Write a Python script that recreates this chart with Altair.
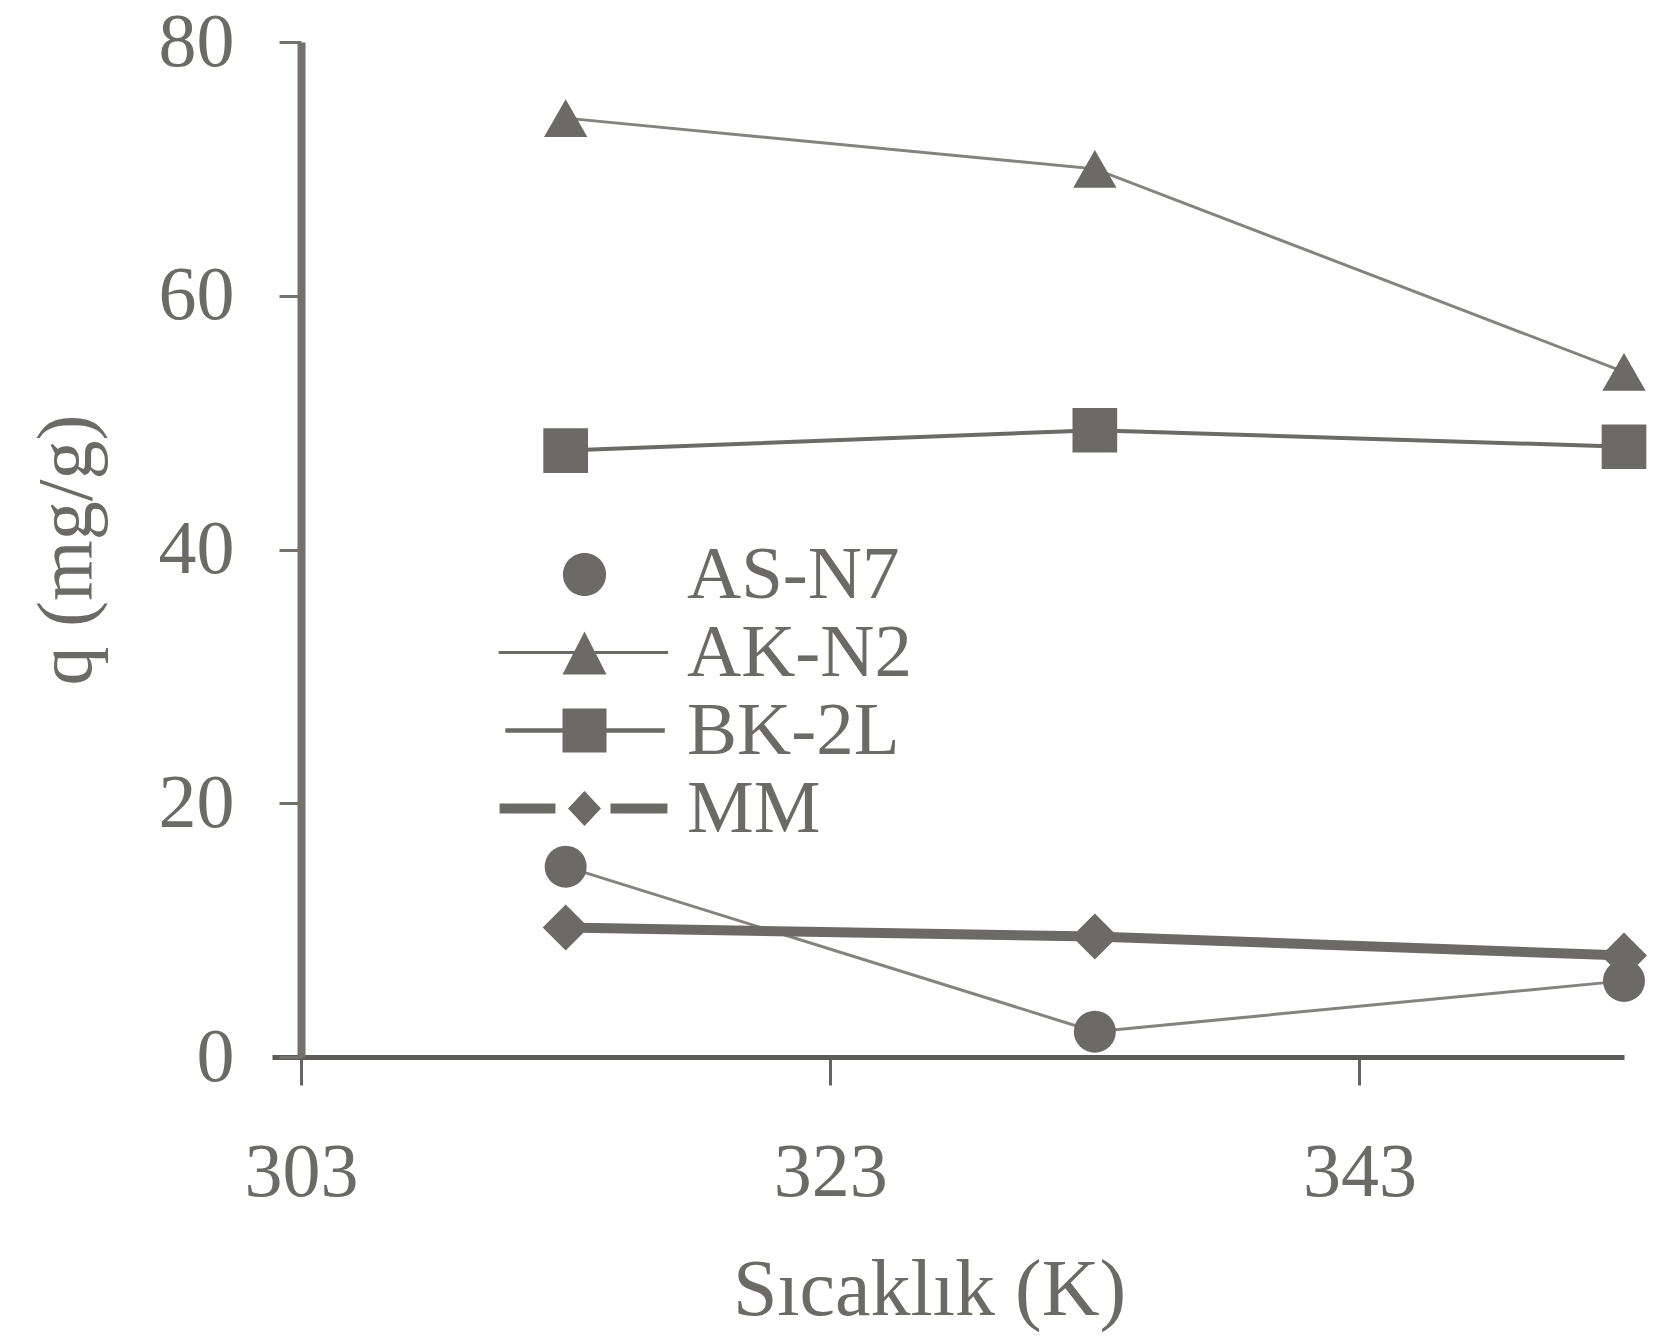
import altair as alt
import pandas as pd

# ---- data ----
temps = [313, 333, 353]
series_names = ["AS-N7", "AK-N2", "BK-2L", "MM"]
as_n7 = [15.0, 2.0, 6.0]
ak_n2 = [74.0, 70.0, 54.0]
bk_2l = [47.8, 49.4, 48.1]
mm = [10.2, 9.5, 8.0]

x_ticks = [303, 323, 343]
y_ticks = [0, 20, 40, 60, 80]

rows = []
for name, vals in zip(series_names, [as_n7, ak_n2, bk_2l, mm]):
    for t, v in zip(temps, vals):
        rows.append({"series": name, "T": t, "q": v})
df = pd.DataFrame(rows)

# ---- styles ----
GRAY = "#6b6a66"
LIGHT = "#85837f"
FONT = "Liberation Serif"

line_styles = {
    "AS-N7": (LIGHT, 3),
    "AK-N2": (LIGHT, 3),
    "BK-2L": (GRAY, 4),
    "MM": (GRAY, 10),
}
marker_shapes = ["circle", "triangle-up", "square", "diamond"]
marker_sizes = [1764, 2116, 2100, 1600]

legend_paths = [
    "M-0.98,0 A0.98,0.98 0 1,0 0.98,0 A0.98,0.98 0 1,0 -0.98,0 Z",
    "M-3.9,-0.07 L3.8,-0.07 L3.8,0.07 L-3.9,0.07 Z M0,-0.95 L1,1 L-1,1 Z",
    "M-3.6,-0.1 L3.65,-0.1 L3.65,0.1 L-3.6,0.1 Z M-1,-1 L1,-1 L1,1 L-1,1 Z",
    "M-3.86,-0.23 L-1.32,-0.23 L-1.32,0.23 L-3.86,0.23 Z "
    "M1.18,-0.23 L3.77,-0.23 L3.77,0.23 L1.18,0.23 Z "
    "M0,-0.8 L0.75,0 L0,0.8 L-0.75,0 Z",
]

x_enc = alt.X(
    "T:Q",
    title="Sıcaklık (K)",
    scale=alt.Scale(domain=[301.9, 353], nice=False, zero=False),
    axis=alt.Axis(
        values=x_ticks, format="d", grid=False,
        domainColor="#5c5a58", domainWidth=5,
        tickColor="#666462", tickWidth=3, tickSize=28,
        labelFont=FONT, labelFontSize=76, labelColor=GRAY, labelPadding=50,
        titleFont=FONT, titleFontSize=80, titleColor=GRAY, titleFontWeight="normal",
        titlePadding=41, titleX=657,
    ),
)
y_enc = alt.Y(
    "q:Q",
    title="q (mg/g)",
    scale=alt.Scale(domain=[0, 80], nice=False),
    axis=alt.Axis(
        values=y_ticks, grid=False, offset=-29,
        domainColor="#74706b", domainWidth=8,
        tickColor="#74706b", tickWidth=3, tickSize=22,
        labelFont=FONT, labelFontSize=76, labelColor=GRAY, labelPadding=45,
        titleFont=FONT, titleFontSize=78, titleColor=GRAY, titleFontWeight="normal",
        titlePadding=52,
    ),
)

base = alt.Chart(df)

line_layers = []
for name in series_names:
    col, w = line_styles[name]
    line_layers.append(
        base.transform_filter(alt.datum.series == name)
        .mark_line(color=col, strokeWidth=w)
        .encode(x=x_enc, y=y_enc)
    )

points = base.mark_point(filled=True, opacity=1, color=GRAY, strokeWidth=0).encode(
    x=x_enc, y=y_enc,
    shape=alt.Shape("series:N", scale=alt.Scale(domain=series_names, range=marker_shapes), legend=None),
    size=alt.Size("series:N", scale=alt.Scale(domain=series_names, range=marker_sizes), legend=None),
)

legend_layer = base.mark_point(filled=True, opacity=0, color=GRAY).encode(
    x=x_enc, y=y_enc,
    shape=alt.Shape(
        "series:N",
        scale=alt.Scale(domain=series_names, range=legend_paths),
        legend=alt.Legend(
            orient="none", legendX=275, legendY=495, title=None, padding=0,
            symbolSize=1936, symbolFillColor=GRAY, symbolStrokeColor=GRAY,
            symbolStrokeWidth=0, symbolOpacity=1,
            labelFont=FONT, labelFontSize=75, labelColor=GRAY, labelOffset=65,
            labelLimit=0, rowPadding=2,
        ),
    ),
)

chart = (
    alt.layer(*line_layers, points, legend_layer)
    .resolve_scale(shape="independent", size="independent")
    .properties(
        width=1352, height=1015,
        autosize=alt.AutoSizeParams(type="none"),
        padding={"left": 272, "top": 42, "right": 46, "bottom": 280},
        background="white",
    )
    .configure_view(stroke=None)
)

chart.save("out.html", embed_options={"renderer": "svg", "actions": False})
